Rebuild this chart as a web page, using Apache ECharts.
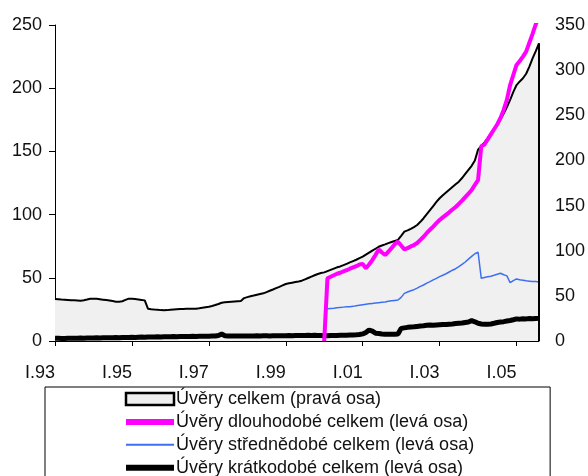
<!DOCTYPE html>
<html>
<head>
<meta charset="utf-8">
<script src="https://cdn.jsdelivr.net/npm/echarts@6/dist/echarts.min.js"></script>
<style>html,body{margin:0;padding:0;background:#fff}#c{width:588px;height:476px}</style>
</head>
<body>
<div id="c"></div>
<script>
// months Jan 1993 .. Aug 2005
const startYear = 1993;
const monthCount = 152;
const romanMonths = ['I','II','III','IV','V','VI','VII','VIII','IX','X','XI','XII'];
const xTickLabels = ['I.93','I.95','I.97','I.99','I.01','I.03','I.05'];
const leftTicks = [0, 50, 100, 150, 200, 250];
const rightTicks = [0, 50, 100, 150, 200, 250, 300, 350];

const seriesNames = [
  'Úvěry celkem (pravá osa)',
  'Úvěry dlouhodobé celkem (levá osa)',
  'Úvěry střednědobé celkem (levá osa)',
  'Úvěry krátkodobé celkem (levá osa)'
];

// total loans (right axis)
const totalLoans = [
  46.5, 46.3, 46.0, 45.8, 45.5, 45.2, 45.0, 44.8, 44.6, 45.2, 46.0, 46.9,
  46.9, 46.7, 46.3, 45.8, 45.3, 44.8, 44.2, 43.5, 43.6, 44.0, 45.5, 46.9,
  46.7, 46.4, 46.0, 45.5, 45.0, 35.8, 35.2, 34.8, 34.5, 34.2, 34.0, 34.2,
  34.6, 35.0, 35.2, 35.4, 35.5, 35.6, 35.7, 35.8, 35.8, 36.2, 36.8, 37.4,
  38.0, 38.8, 39.8, 41.0, 42.4, 42.8, 43.1, 43.4, 43.7, 44.0, 44.3, 47.5,
  48.6, 49.5, 50.3, 51.2, 52.0, 52.8, 54.2, 55.6, 57.0, 58.5, 60.0, 61.6,
  63.1, 63.9, 64.6, 65.3, 66.0, 66.8, 68.3, 69.8, 71.3, 72.8, 74.2, 75.3,
  76.0, 77.4, 78.8, 80.2, 81.6, 82.6, 84.0, 85.5, 87.0, 88.5, 90.0, 91.8,
  93.4, 95.6, 97.8, 100.0, 102.2, 104.4, 105.8, 107.0, 108.4, 109.6, 110.8, 112.0,
  116.5, 121.1, 122.5, 124.3, 126.2, 128.5, 132.0, 136.0, 140.5, 145.0, 149.5, 154.0,
  158.1, 161.5, 164.5, 167.5, 170.5, 173.5, 176.5, 180.5, 185.0, 189.5, 194.0, 200.0,
  212.0, 216.0, 220.0, 224.5, 230.0, 235.0, 240.0, 245.5, 252.0, 259.0, 267.0, 276.0,
  283.5, 287.5, 291.0, 296.0, 304.0, 313.0, 321.0, 329.7
];

// long-term loans (left axis), from Jan 2000 (index 84)
const longTermStart = 84;
const longTermLoans = [
  0,
  49.6, 50.8, 52.0, 53.2, 54.0, 55.0, 56.0, 57.2, 58.2, 59.2, 60.6,
  61.0, 57.5, 60.5, 64.0, 68.0, 72.5, 70.0, 68.0, 70.6, 73.5, 76.5, 78.6,
  75.5, 72.5, 73.5, 74.8, 75.9, 77.5, 80.0, 82.5, 85.5, 88.0, 90.5, 93.2,
  95.7, 97.8, 99.8, 101.8, 104.0, 106.0, 108.5, 111.0, 113.8, 116.5, 119.5, 123.5,
  127.4, 154.0, 155.5, 159.5, 163.5, 167.5, 171.5, 176.5, 183.0, 191.0, 202.5, 210.5,
  218.4, 221.5, 225.0, 228.9, 236.0, 243.0, 250.5, 257.0
];

// medium-term loans (left axis), from Feb 2000 (index 85)
const midTermStart = 85;
const midTermLoans = [
  25.5, 25.8, 26.0, 26.3, 26.6, 26.8, 27.0, 27.1, 27.4, 27.8, 28.2,
  28.6, 29.0, 29.4, 29.7, 30.0, 30.3, 30.6, 30.9, 31.4, 31.8, 32.1, 32.4,
  34.5, 37.7, 38.8, 39.8, 40.6, 41.8, 43.2, 44.3, 45.8, 47.0, 48.4, 49.6,
  50.9, 52.0, 53.2, 54.6, 56.0, 57.2, 58.8, 60.6, 62.5, 64.8, 67.0, 69.0,
  70.2, 49.6, 50.2, 50.8, 51.3, 52.0, 52.8, 53.6, 52.4, 51.5, 46.1, 47.8,
  49.1, 48.4, 48.0, 47.6, 47.3, 47.0, 47.0, 46.6
];

// short-term loans (left axis)
const shortTermLoans = [
  2.2, 2.1, 2.0, 2.0, 2.1, 2.1, 2.2, 2.2, 2.3, 2.2, 2.3, 2.4,
  2.4, 2.5, 2.4, 2.5, 2.6, 2.5, 2.6, 2.7, 2.6, 2.8, 2.7, 2.8,
  2.9, 2.8, 3.0, 3.1, 3.0, 3.2, 3.1, 3.2, 3.3, 3.2, 3.3, 3.4,
  3.4, 3.5, 3.4, 3.5, 3.6, 3.5, 3.6, 3.7, 3.6, 3.7, 3.8, 3.7,
  3.8, 3.9, 4.0, 4.4, 5.5, 4.2, 4.0, 3.9, 3.9, 4.0, 3.9, 4.0,
  3.9, 4.0, 4.0, 4.1, 4.0, 4.1, 4.1, 4.0, 4.1, 4.2, 4.1, 4.2,
  4.2, 4.3, 4.2, 4.3, 4.4, 4.3, 4.4, 4.5, 4.4, 4.5, 4.4, 4.3,
  4.2, 4.2, 4.3, 4.3, 4.4, 4.5, 4.5, 4.6, 4.7, 4.8, 4.9, 5.1,
  5.6, 6.8, 8.7, 7.8, 6.2, 6.0, 5.6, 5.4, 5.3, 5.4, 5.3, 5.5,
  10.0, 10.4, 10.8, 11.0, 11.2, 11.5, 11.8, 12.0, 12.4, 12.7, 12.5, 12.7,
  12.9, 13.1, 13.0, 13.3, 13.5, 13.8, 14.0, 14.2, 14.6, 15.0, 16.1, 15.2,
  14.0, 13.5, 13.2, 13.3, 13.5, 14.0, 14.6, 15.0, 15.3, 15.8, 16.2, 16.8,
  17.5, 17.3, 17.6, 17.5, 17.8, 17.6, 17.8, 17.9
];

const categories = [];
for (let i = 0; i < monthCount; i++) {
  const y = startYear + Math.floor(i / 12);
  categories.push(romanMonths[i % 12] + '.' + String(y % 100).padStart(2, '0'));
}
function pad(start, arr) {
  return new Array(start).fill(null).concat(arr);
}
const longData = pad(longTermStart, longTermLoans);
const midData = pad(midTermStart, midTermLoans);
const lastCat = categories[categories.length - 1];
const lastTotal = totalLoans[totalLoans.length - 1];

const FONT = "'Liberation Sans', Arial, sans-serif";
const noSymbol = { color: 'rgba(0,0,0,0)', borderWidth: 0, opacity: 0 };
const chart = echarts.init(document.getElementById('c'), null, { renderer: 'canvas' });
chart.setOption({
  animation: false,
  backgroundColor: '#ffffff',
  textStyle: { fontFamily: FONT },
  grid: { left: 55, right: 48, top: 25, bottom: 135, containLabel: false },
  xAxis: {
    type: 'category',
    data: categories,
    boundaryGap: false,
    axisLine: { show: true, lineStyle: { color: '#000', width: 1 } },
    axisTick: {
      show: true, length: 5, inside: false,
      interval: (idx, val) => xTickLabels.includes(val),
      lineStyle: { color: '#000' }
    },
    axisLabel: {
      interval: (idx, val) => xTickLabels.includes(val),
      align: 'right',
      margin: 23, color: '#111', fontSize: 18, fontFamily: FONT
    },
    splitLine: { show: false }
  },
  yAxis: [
    {
      type: 'value', min: leftTicks[0], max: leftTicks[leftTicks.length - 1], interval: 50,
      axisLine: { show: true, lineStyle: { color: '#000', width: 1 } },
      axisTick: { show: true, length: 6, lineStyle: { color: '#000' } },
      axisLabel: { margin: 13, color: '#111', fontSize: 18, fontFamily: FONT },
      splitLine: { show: false }
    },
    {
      type: 'value', min: rightTicks[0], max: rightTicks[rightTicks.length - 1], interval: 50,
      position: 'right',
      axisLine: { show: false },
      axisTick: { show: false },
      axisLabel: { margin: 16, color: '#111', fontSize: 18, fontFamily: FONT },
      splitLine: { show: false }
    }
  ],
  legend: {
    type: 'plain',
    orient: 'vertical',
    left: 45, top: 387,
    width: 350, height: 160,
    padding: [3, 76, 30, 78],
    itemGap: 4.9,
    itemWidth: 48, itemHeight: 12,
    borderColor: '#000', borderWidth: 1,
    textStyle: { fontSize: 18, color: '#111', fontFamily: FONT, padding: [0, 0, 0, -3] },
    data: [
      { name: seriesNames[0], icon: 'rect', itemStyle: { color: '#efefef', borderColor: '#000', borderWidth: 2.5 } },
      { name: seriesNames[1], itemStyle: noSymbol, lineStyle: { color: '#ff00ff', width: 6 } },
      { name: seriesNames[2], itemStyle: noSymbol, lineStyle: { color: '#3d6ff2', width: 2 } },
      { name: seriesNames[3], itemStyle: noSymbol, lineStyle: { color: '#000', width: 6 } }
    ]
  },
  series: [
    {
      name: seriesNames[0], type: 'line', yAxisIndex: 1, data: totalLoans,
      symbol: 'none', z: 1,
      itemStyle: { color: '#efefef', borderColor: '#000' },
      lineStyle: { color: '#000', width: 2 },
      areaStyle: { color: '#f0f0f0', opacity: 1 },
      markLine: {
        silent: true, symbol: 'none', label: { show: false },
        lineStyle: { color: '#000', width: 2, type: 'solid' },
        data: [[{ coord: [lastCat, 0] }, { coord: [lastCat, lastTotal] }]]
      }
    },
    {
      name: seriesNames[3], type: 'line', yAxisIndex: 0, data: shortTermLoans,
      symbol: 'none', z: 3,
      itemStyle: { color: '#000' },
      lineStyle: { color: '#000', width: 5 }
    },
    {
      name: seriesNames[2], type: 'line', yAxisIndex: 0, data: midData,
      symbol: 'none', z: 4,
      itemStyle: { color: '#3d6ff2' },
      lineStyle: { color: '#3d6ff2', width: 1.5 }
    },
    {
      name: seriesNames[1], type: 'line', yAxisIndex: 0, data: longData,
      symbol: 'none', z: 5,
      itemStyle: { color: '#ff00ff' },
      lineStyle: { color: '#ff00ff', width: 4 }
    }
  ]
});
</script>
</body>
</html>
